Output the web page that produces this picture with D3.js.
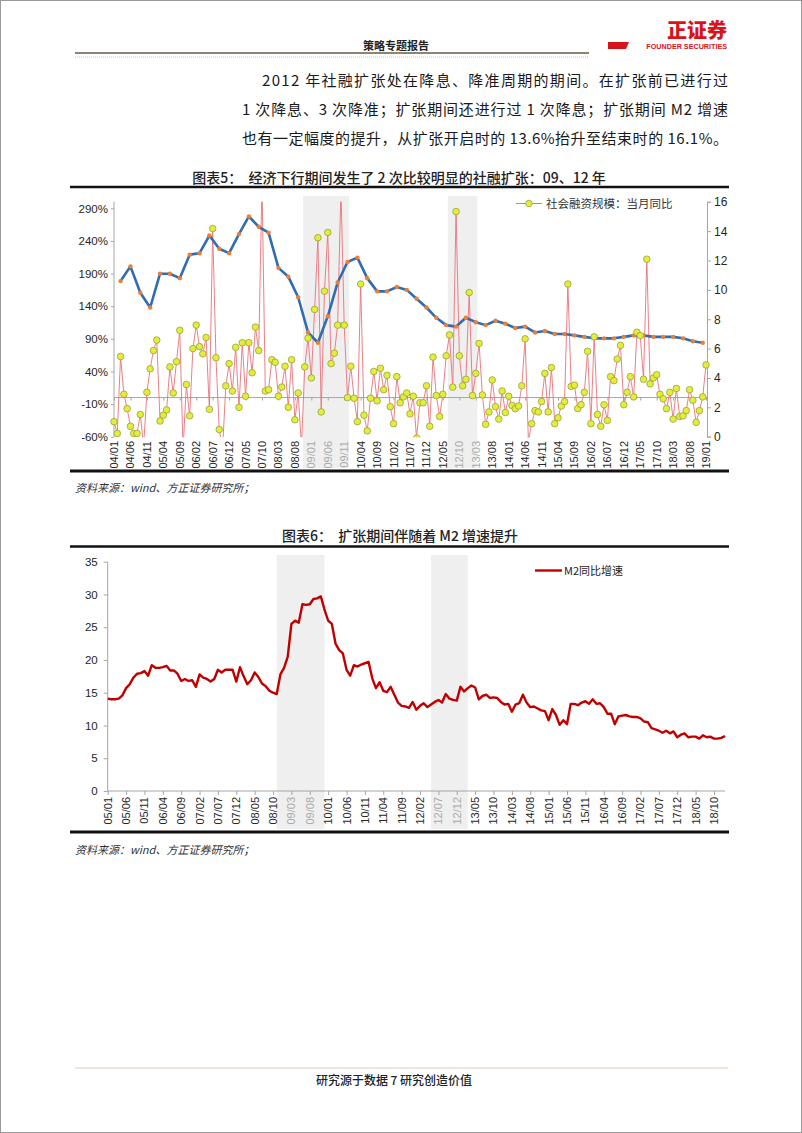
<!DOCTYPE html>
<html><head><meta charset="utf-8">
<script src="https://cdn.jsdelivr.net/npm/d3@7"></script>
<style>body{margin:0;background:#fff}svg{display:block}</style>
</head><body>
<svg id="page" width="802" height="1133"></svg>
<script>
// ---------- DATA ----------
const ticks5 = ["04/01","04/06","04/11","05/04","05/09","06/02","06/07","06/12","07/05","07/10","08/03","08/08","09/01","09/06","09/11","10/04","10/09","11/02","11/07","11/12","12/05","12/10","13/03","13/08","14/01","14/06","14/11","15/04","15/09","16/02","16/07","16/12","17/05","17/10","18/03","18/08","19/01"];
const ticks6 = ["05/01","05/06","05/11","06/04","06/09","07/02","07/07","07/12","08/05","08/10","09/03","09/08","10/01","10/06","10/11","11/04","11/09","12/02","12/07","12/12","13/05","13/10","14/03","14/08","15/01","15/06","15/11","16/04","16/09","17/02","17/07","17/12","18/05","18/10"];
const yTicks5L = [-60,-10,40,90,140,190,240,290];
const yTicks5R = [0,2,4,6,8,10,12,14,16];
const yTicks6 = [0,5,10,15,20,25,30,35];

// 社会融资规模：当月同比 (%), monthly 2004/01 - 2019/01
const sfYoY = [
-37,-55,63,5,-17,-44,-55,-55,-26,-75,8,44,
72,88,-36,-27,-19,47,7,55,103,-80,20,-28,
75,111,78,67,92,-18,259,61,-49,-80,18,52,
10,77,-15,84,2,84,38,108,72,330,10,12,
58,54,2,16,48,-15,58,-34,7,-75,47,91,
30,135,245,-22,163,253,52,68,111,320,111,0,
48,-1,-37,174,-27,-51,-1,40,-5,45,12,34,
-14,-40,32,-8,1,7,-25,2,-62,-8,-8,18,
-44,62,3,-29,5,64,96,16,285,64,18,28,
161,3,37,83,4,-41,-22,27,-14,-33,10,-23,
2,-12,-17,-13,18,90,-66,-40,-20,-22,-6,37,
-22,46,-40,-31,-13,-6,174,17,19,-17,-11,8,
71,-40,93,-26,-44,-11,-35,32,26,59,80,-11,
8,32,1,100,95,28,212,21,30,35,5,-2,
-17,8,-33,14,-29,-28,-20,12,-4,-38,-20,1,
50];
// GDP 当季同比 (right axis), quarterly 2004Q1 - 2018Q4
const gdpYoY = [
10.6,11.6,9.8,8.8, 11.1,11.1,10.8,12.4, 12.5,13.7,12.8,12.5, 13.8,15.0,14.3,13.9,
11.5,10.9,9.5,7.1, 6.4,8.2,10.5,11.9, 12.2,10.8,9.9,9.9, 10.2,10.0,9.4,8.8,
8.1,7.6,7.5,8.1, 7.8,7.6,7.9,7.7, 7.4,7.5,7.1,7.2, 7.0,7.0,6.9,6.8,
6.7,6.7,6.7,6.8, 6.9,6.9,6.8,6.8, 6.8,6.7,6.5,6.4];
// M2同比增速 (%), monthly 2005/01 - 2019/01
const m2YoY = [
14.1,14.0,14.0,14.1,14.6,15.7,16.3,17.3,17.9,18.0,18.3,17.6,
19.2,18.8,18.8,18.9,19.1,18.4,18.4,17.9,16.8,17.1,16.8,16.9,
15.9,17.8,17.3,17.1,16.7,17.1,18.5,18.1,18.5,18.5,18.5,16.7,
18.9,17.5,16.3,16.9,18.1,17.4,16.4,16.0,15.3,15.0,14.8,17.8,
18.8,20.5,25.5,26.0,25.7,28.5,28.4,28.5,29.3,29.4,29.7,27.7,
26.0,25.5,22.5,21.5,21.0,18.5,17.6,19.2,19.0,19.3,19.5,19.7,
17.2,15.7,16.6,15.3,15.1,15.9,14.7,13.5,13.0,12.9,12.7,13.6,
12.4,13.0,13.4,12.8,13.2,13.6,13.9,13.5,14.8,14.1,13.9,13.8,
15.9,15.2,15.7,16.1,15.8,14.0,14.5,14.7,14.2,14.3,14.2,13.6,
13.2,13.3,12.1,13.2,13.4,14.7,13.5,12.8,12.9,12.6,12.3,12.2,
10.8,12.5,11.6,10.1,10.8,10.2,13.3,13.3,13.1,13.5,13.7,13.3,
14.0,13.3,13.4,12.8,11.8,11.8,10.2,11.4,11.5,11.6,11.4,11.3,
11.3,11.1,10.6,10.5,9.6,9.4,9.2,8.9,9.2,8.8,9.1,8.2,
8.6,8.8,8.2,8.3,8.3,8.0,8.5,8.2,8.3,8.0,8.0,8.1,
8.4];
const shades5 = [["08/11","09/12"],["12/07","13/03"]];
const shades6 = [["08/11","09/12"],["12/05","13/03"]];

function monthLabels(y0, n){const a=[];for(let i=0;i<n;i++){const yy=y0+Math.floor(i/12),mm=i%12+1;a.push(String(yy%100).padStart(2,"0")+"/"+String(mm).padStart(2,"0"));}return a;}
const months5 = monthLabels(2004, sfYoY.length);
const quarters5 = months5.filter((d,i)=>i%3===2);
const months6 = monthLabels(2005, m2YoY.length);

// ---------- PAGE ----------
const svg = d3.select("#page");
const CJK = '"Noto Sans CJK SC","Noto Sans",sans-serif';
const AR = '"Liberation Sans",Arial,sans-serif';
svg.append("rect").attr("x",0.5).attr("y",0.5).attr("width",801).attr("height",1132).attr("fill","#fff").attr("stroke","#9a9a9a");

// header
svg.append("text").attr("x",396).attr("y",50).attr("text-anchor","middle").attr("font-family",CJK).attr("font-size",11).attr("font-weight",700).attr("fill","#222").text("策略专题报告");
svg.append("line").attr("x1",75).attr("x2",589).attr("y1",53).attr("y2",53).attr("stroke","#8d8474").attr("stroke-width",2);
svg.append("line").attr("x1",75).attr("x2",589).attr("y1",57).attr("y2",57).attr("stroke","#c9c2b5").attr("stroke-width",1).attr("stroke-dasharray","1,1");
svg.append("path").attr("d","M608,42 L629,42 L626,49 L608,49 Z").attr("fill","#d7141a");
svg.append("text").attr("x",727).attr("y",38).attr("text-anchor","end").attr("font-family",CJK).attr("font-size",20).attr("font-weight",900).attr("fill","#d7141a").text("正证券");
svg.append("text").attr("x",727).attr("y",49).attr("text-anchor","end").attr("font-family",AR).attr("font-size",7.2).attr("font-weight",700).attr("fill","#d7141a").text("FOUNDER SECURITIES");

// paragraph
const para = [
 {x:262,y:86,t:"2012 年社融扩张处在降息、降准周期的期间。在扩张前已进行过",len:466},
 {x:242,y:115,t:"1 次降息、3 次降准；扩张期间还进行过 1 次降息；扩张期间 M2 增速",len:486},
 {x:242,y:144,t:"也有一定幅度的提升，从扩张开启时的 13.6%抬升至结束时的 16.1%。",len:486}
];
para.forEach(p=>svg.append("text").attr("x",p.x).attr("y",p.y).attr("font-family",CJK).attr("font-size",15).attr("fill","#1a1a1a").attr("textLength",p.len).attr("lengthAdjust","spacing").text(p.t));

// ---------- CHART 5 ----------
const c5 = {top:201.8,bottom:436.7,left:114,right:707};
const x5 = d3.scaleLinear().domain([0,months5.length-1]).range([114,706]);
const yL = d3.scaleLinear().domain([-60,300]).range([c5.bottom,c5.top]);
const yR = d3.scaleLinear().domain([0,16]).range([c5.bottom,c5.top]);
const i5 = d=>months5.indexOf(d);

svg.append("text").attr("x",399).attr("y",183).attr("text-anchor","middle").attr("font-family",CJK).attr("font-size",14).attr("font-weight",500).attr("fill","#222").attr("xml:space","preserve").text("图表5：  经济下行期间发生了 2 次比较明显的社融扩张：09、12 年");
svg.append("line").attr("x1",70).attr("x2",729).attr("y1",187).attr("y2",187).attr("stroke","#111").attr("stroke-width",2.5);
svg.append("line").attr("x1",70).attr("x2",729).attr("y1",471).attr("y2",471).attr("stroke","#111").attr("stroke-width",3);

const g5 = svg.append("g");
shades5.forEach(s=>g5.append("rect").attr("x",x5(i5(s[0])-0.5)).attr("width",x5(i5(s[1])+0.5)-x5(i5(s[0])-0.5)).attr("y",196).attr("height",272).attr("fill","#efefef"));

// axes
const axL = g5.append("g").attr("transform",`translate(${c5.left},0)`).call(d3.axisLeft(yL).tickValues(yTicks5L).tickSize(3).tickFormat(d=>d+"%"));
axL.select(".domain").attr("d",`M0,${c5.top}V${c5.bottom}`);
const axR = g5.append("g").attr("transform",`translate(${c5.right},0)`).call(d3.axisRight(yR).tickValues(yTicks5R).tickSize(4).tickFormat(d3.format("d")));
[axL,axR].forEach(a=>{a.selectAll("path,line").attr("stroke","#a6a6a6");a.selectAll("text").attr("font-family",AR).attr("font-size",11.5).attr("fill","#262626");});
axL.selectAll("text").attr("x",-6);
axR.selectAll("text").attr("x",7).attr("font-size",12);
const axX5 = g5.append("g").attr("transform",`translate(0,${yL(0)})`).call(d3.axisBottom(x5).tickValues(ticks5.map(i5)).tickSize(3).tickFormat(""));
axX5.select(".domain").attr("d",`M${c5.left},0H${c5.right}`).attr("stroke","#a6a6a6");
axX5.selectAll("line").attr("stroke","#a6a6a6");
const inShade = (d,sh,months)=>sh.some(s=>months.indexOf(d)>=months.indexOf(s[0])&&months.indexOf(d)<=months.indexOf(s[1]));
g5.append("g").selectAll("text").data(ticks5).join("text")
 .attr("transform",d=>`translate(${x5(i5(d))},441) rotate(-90)`)
 .attr("text-anchor","end").attr("dy","0.36em").attr("font-family",AR).attr("font-size",11)
 .attr("fill",d=>inShade(d,shades5,months5)?"#aaaaaa":"#262626").text(d=>d);

svg.append("clipPath").attr("id","clip5").append("rect").attr("x",108).attr("y",c5.top).attr("width",605).attr("height",c5.bottom-c5.top+0.5);
const p5 = g5.append("g").attr("clip-path","url(#clip5)");
p5.append("path").datum(sfYoY).attr("fill","none").attr("stroke","#e8737a").attr("stroke-width",0.9)
 .attr("d",d3.line().x((d,i)=>x5(i)).y(d=>yL(d)));
p5.append("path").datum(gdpYoY).attr("fill","none").attr("stroke","#2f6cb3").attr("stroke-width",2.6).attr("stroke-linejoin","round")
 .attr("d",d3.line().x((d,i)=>x5(i5(quarters5[i]))).y(d=>yR(d)));
p5.append("g").selectAll("circle").data(gdpYoY).join("circle").attr("cx",(d,i)=>x5(i5(quarters5[i]))).attr("cy",d=>yR(d)).attr("r",2.2).attr("fill","#ec7f34");
p5.append("g").selectAll("circle").data(sfYoY).join("circle").attr("cx",(d,i)=>x5(i)).attr("cy",d=>yL(d)).attr("r",3.3).attr("fill","#e3ee3c").attr("stroke","#98a135").attr("stroke-width",0.8);

// legend 5
svg.append("line").attr("x1",516).attr("x2",542).attr("y1",203.5).attr("y2",203.5).attr("stroke","#e8737a").attr("stroke-width",1);
svg.append("circle").attr("cx",529).attr("cy",203.5).attr("r",3.3).attr("fill","#e3ee3c").attr("stroke","#98a135").attr("stroke-width",0.8);
svg.append("text").attr("x",546).attr("y",207.5).attr("font-family",CJK).attr("font-size",11.5).attr("fill","#333").text("社会融资规模：当月同比");

svg.append("text").attr("x",75).attr("y",492).attr("font-family",CJK).attr("font-size",11).attr("font-style","italic").attr("fill","#333").text("资料来源：wind、方正证券研究所；");

// ---------- CHART 6 ----------
const c6 = {top:561.7,bottom:791,left:107.7,right:725};
const x6 = d3.scaleLinear().domain([0,months6.length-1]).range([c6.left,c6.right]);
const y6 = d3.scaleLinear().domain([0,35]).range([c6.bottom,c6.top]);
const i6 = d=>months6.indexOf(d);

svg.append("text").attr("x",400).attr("y",541).attr("text-anchor","middle").attr("font-family",CJK).attr("font-size",14).attr("font-weight",500).attr("fill","#222").attr("xml:space","preserve").text("图表6：  扩张期间伴随着 M2 增速提升");
svg.append("line").attr("x1",70).attr("x2",729).attr("y1",546.5).attr("y2",546.5).attr("stroke","#111").attr("stroke-width",2.5);
svg.append("line").attr("x1",70).attr("x2",729).attr("y1",832).attr("y2",832).attr("stroke","#111").attr("stroke-width",3);

const g6 = svg.append("g");
shades6.forEach(s=>g6.append("rect").attr("x",x6(i6(s[0]))).attr("width",x6(i6(s[1]))-x6(i6(s[0]))).attr("y",555).attr("height",274).attr("fill","#efefef"));
const ax6 = g6.append("g").attr("transform",`translate(${c6.left},0)`).call(d3.axisLeft(y6).tickValues(yTicks6).tickSize(4));
ax6.select(".domain").attr("d",`M0,${c6.top}V${c6.bottom}`);
ax6.selectAll("path,line").attr("stroke","#a6a6a6");
ax6.selectAll("text").attr("x",-10).attr("font-family",AR).attr("font-size",11.5).attr("fill","#262626");
const ax6x = g6.append("g").attr("transform",`translate(0,${c6.bottom})`).call(d3.axisBottom(x6).tickValues(ticks6.map(i6)).tickSize(4).tickFormat(""));
ax6x.select(".domain").attr("d",`M${c6.left},0H${c6.right}`).attr("stroke","#a6a6a6");
ax6x.selectAll("line").attr("stroke","#a6a6a6");
g6.append("g").selectAll("text").data(ticks6).join("text")
 .attr("transform",d=>`translate(${x6(i6(d))},797) rotate(-90)`)
 .attr("text-anchor","end").attr("dy","0.36em").attr("font-family",AR).attr("font-size",11)
 .attr("fill",d=>inShade(d,shades6,months6)?"#aaaaaa":"#262626").text(d=>d);
g6.append("path").datum(m2YoY).attr("fill","none").attr("stroke","#c00000").attr("stroke-width",2.4).attr("stroke-linejoin","round")
 .attr("d",d3.line().x((d,i)=>x6(i)).y(d=>y6(d)));

svg.append("line").attr("x1",535).attr("x2",562).attr("y1",570.5).attr("y2",570.5).attr("stroke","#c00000").attr("stroke-width",2.4);
svg.append("text").attr("x",564).attr("y",574.5).attr("font-family",CJK).attr("font-size",11).attr("fill","#222").text("M2同比增速");

svg.append("text").attr("x",75).attr("y",854).attr("font-family",CJK).attr("font-size",11).attr("font-style","italic").attr("fill","#333").text("资料来源：wind、方正证券研究所；");

// footer
svg.append("line").attr("x1",75).attr("x2",728).attr("y1",1068).attr("y2",1068).attr("stroke","#f1dccb").attr("stroke-width",1.5);
svg.append("text").attr("x",394).attr("y",1085).attr("text-anchor","middle").attr("font-family",CJK).attr("font-size",12).attr("font-weight",500).attr("fill","#222").text("研究源于数据 7 研究创造价值");
</script>
</body></html>
